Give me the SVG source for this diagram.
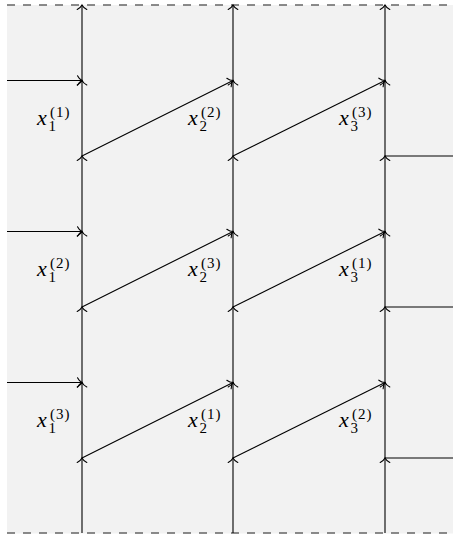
<svg xmlns="http://www.w3.org/2000/svg" width="453" height="537" viewBox="0 0 453 537">
<style>
.ln{stroke:#000;stroke-width:1.1;fill:none}
.ar{marker-end:url(#to)}
.dash{stroke:#666;stroke-width:1.6;stroke-dasharray:8 8;fill:none}
.x{font-family:"Liberation Serif",serif;font-style:italic;font-size:22px;fill:#000}
.s{font-family:"Liberation Serif",serif;font-size:15px;fill:#000}
.p{letter-spacing:1px}
</style>
<defs>
<marker id="to" markerUnits="userSpaceOnUse" orient="auto" markerWidth="12" markerHeight="12" refX="0" refY="0" viewBox="-6 -6 12 12" overflow="visible">
<path d="M-4.5,-4.8 C-3.2,-2.2 -1.2,-0.6 0,0 C-1.2,0.6 -3.2,2.2 -4.5,4.8" fill="none" stroke="#000" stroke-width="1.1" stroke-linecap="round"/>
</marker>
</defs>
<rect x="7" y="5" width="446" height="528.5" fill="#f2f2f2"/>
<g id="borders">
<line class="dash" x1="7" y1="5" x2="453" y2="5"/>
<line class="dash" x1="7" y1="533" x2="453" y2="533"/>
</g>
<g id="connectors">
<line class="ln ar" x1="82" y1="533" x2="82" y2="458"/>
<line class="ln ar" x1="82" y1="458" x2="82" y2="382.5"/>
<line class="ln ar" x1="82" y1="382.5" x2="82" y2="307"/>
<line class="ln ar" x1="82" y1="307" x2="82" y2="231.5"/>
<line class="ln ar" x1="82" y1="231.5" x2="82" y2="156"/>
<line class="ln ar" x1="82" y1="156" x2="82" y2="80.5"/>
<line class="ln ar" x1="82" y1="80.5" x2="82" y2="5"/>
<line class="ln ar" x1="233" y1="533" x2="233" y2="458"/>
<line class="ln ar" x1="233" y1="458" x2="233" y2="382.5"/>
<line class="ln ar" x1="233" y1="382.5" x2="233" y2="307"/>
<line class="ln ar" x1="233" y1="307" x2="233" y2="231.5"/>
<line class="ln ar" x1="233" y1="231.5" x2="233" y2="156"/>
<line class="ln ar" x1="233" y1="156" x2="233" y2="80.5"/>
<line class="ln ar" x1="233" y1="80.5" x2="233" y2="5"/>
<line class="ln ar" x1="385" y1="533" x2="385" y2="458"/>
<line class="ln ar" x1="385" y1="458" x2="385" y2="382.5"/>
<line class="ln ar" x1="385" y1="382.5" x2="385" y2="307"/>
<line class="ln ar" x1="385" y1="307" x2="385" y2="231.5"/>
<line class="ln ar" x1="385" y1="231.5" x2="385" y2="156"/>
<line class="ln ar" x1="385" y1="156" x2="385" y2="80.5"/>
<line class="ln ar" x1="385" y1="80.5" x2="385" y2="5"/>
<line class="ln ar" x1="7" y1="80.5" x2="82" y2="80.5"/>
<line class="ln ar" x1="7" y1="231.5" x2="82" y2="231.5"/>
<line class="ln ar" x1="7" y1="382.5" x2="82" y2="382.5"/>
<line class="ln ar" x1="82" y1="156" x2="233" y2="80.5"/>
<line class="ln ar" x1="233" y1="156" x2="385" y2="80.5"/>
<line class="ln ar" x1="82" y1="307" x2="233" y2="231.5"/>
<line class="ln ar" x1="233" y1="307" x2="385" y2="231.5"/>
<line class="ln ar" x1="82" y1="458" x2="233" y2="382.5"/>
<line class="ln ar" x1="233" y1="458" x2="385" y2="382.5"/>
<line class="ln" x1="385" y1="156" x2="453" y2="156"/>
<line class="ln" x1="385" y1="307" x2="453" y2="307"/>
<line class="ln" x1="385" y1="458" x2="453" y2="458"/>
</g>
<g id="label-r1c1"><text class="x" x="37" y="125">x</text><text class="s" x="48.5" y="131">1</text><text class="s p" x="50" y="116.5">(1)</text></g>
<g id="label-r1c2"><text class="x" x="188" y="125">x</text><text class="s" x="199.5" y="131">2</text><text class="s p" x="201" y="116.5">(2)</text></g>
<g id="label-r1c3"><text class="x" x="339" y="125">x</text><text class="s" x="350.5" y="131">3</text><text class="s p" x="352" y="116.5">(3)</text></g>
<g id="label-r2c1"><text class="x" x="37" y="276">x</text><text class="s" x="48.5" y="282">1</text><text class="s p" x="50" y="267.5">(2)</text></g>
<g id="label-r2c2"><text class="x" x="188" y="276">x</text><text class="s" x="199.5" y="282">2</text><text class="s p" x="201" y="267.5">(3)</text></g>
<g id="label-r2c3"><text class="x" x="339" y="276">x</text><text class="s" x="350.5" y="282">3</text><text class="s p" x="352" y="267.5">(1)</text></g>
<g id="label-r3c1"><text class="x" x="37" y="427">x</text><text class="s" x="48.5" y="433">1</text><text class="s p" x="50" y="418.5">(3)</text></g>
<g id="label-r3c2"><text class="x" x="188" y="427">x</text><text class="s" x="199.5" y="433">2</text><text class="s p" x="201" y="418.5">(1)</text></g>
<g id="label-r3c3"><text class="x" x="339" y="427">x</text><text class="s" x="350.5" y="433">3</text><text class="s p" x="352" y="418.5">(2)</text></g>
</svg>
